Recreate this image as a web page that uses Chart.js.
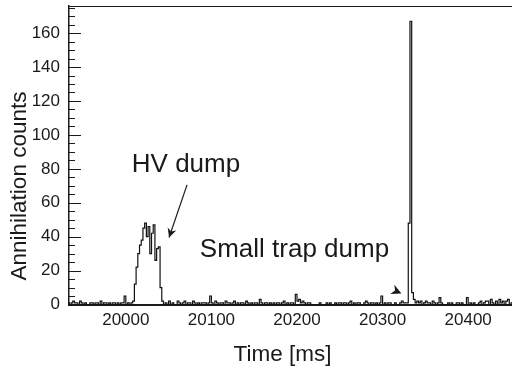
<!DOCTYPE html>
<html lang="en">
<head>
  <meta charset="UTF-8">
  <title>Annihilation counts</title>
  <script src="https://cdn.jsdelivr.net/npm/chart.js"></script>
  <style>
    body { margin: 0; background: #fff; }
    canvas { display: block; }
  </style>
</head>
<body>

  <canvas id="dumpChart" width="512" height="368"></canvas>

  <script>
    // histogram: 2 ms bins, first bin starts at 19932 ms
    const binStart = 19932;
    const binWidth = 2;
    const counts = [
      1, 0, 1, 2, 1, 1, 0, 2, 1, 0, 1, 0, 0, 1, 1, 0, 1, 1, 0, 2,
      0, 1, 1, 0, 1, 0, 1, 1, 0, 1, 0, 1, 1, 5, 0, 1, 0, 1, 2, 12,
      22, 30, 35, 38, 45, 48, 40, 46, 30, 42, 47, 26, 33, 34, 10, 2, 0, 1, 0, 2,
      0, 1, 0, 0, 2, 1, 0, 1, 2, 0, 1, 1, 0, 2, 1, 0, 1, 0, 1, 1,
      1, 0, 1, 5, 1, 0, 2, 1, 0, 1, 1, 0, 2, 1, 1, 0, 1, 2, 0, 1,
      0, 1, 1, 0, 2, 1, 0, 1, 0, 1, 1, 0, 3, 1, 0, 1, 1, 0, 1, 0,
      1, 0, 1, 1, 0, 1, 2, 0, 1, 0, 1, 1, 0, 6, 2, 3, 1, 2, 1, 0,
      1, 1, 0, 0, 0, 0, 0, 1, 0, 0, 0, 1, 0, 1, 0, 0, 1, 0, 1, 1,
      0, 1, 1, 0, 1, 2, 0, 1, 0, 1, 1, 0, 0, 1, 2, 1, 0, 1, 1, 0,
      1, 0, 1, 5, 0, 1, 0, 1, 1, 0, 0, 1, 0, 0, 1, 2, 1, 1, 1, 48,
      167, 7, 3, 1, 2, 1, 2, 0, 1, 2, 1, 1, 0, 2, 1, 0, 1, 4, 1, 0,
      0, 0, 1, 0, 1, 0, 0, 1, 1, 0, 1, 0, 0, 4, 0, 1, 0, 1, 0, 0,
      1, 2, 0, 1, 2, 2, 0, 3, 1, 0, 2, 0, 3, 1, 2, 0, 2, 3, 0, 1,
      0
    ];
    const binTimes = counts.map((c, i) => binStart + i * binWidth);

    const xTicks = [20000, 20100, 20200, 20300, 20400];
    const yTicks = [0, 20, 40, 60, 80, 100, 120, 140, 160];

    const FONT = '"Liberation Sans", Arial, sans-serif';
    const INK = '#1a1a1a';

    function arrowHead(ctx, tx, ty, dx, dy, len, half) {
      const n = Math.hypot(dx, dy);
      const ux = dx / n, uy = dy / n;
      const bx = tx - ux * len, by = ty - uy * len;
      const nx = tx - ux * len * 0.7, ny = ty - uy * len * 0.7;
      ctx.beginPath();
      ctx.moveTo(tx, ty);
      ctx.lineTo(bx - uy * half, by + ux * half);
      ctx.lineTo(nx, ny);
      ctx.lineTo(bx + uy * half, by - ux * half);
      ctx.closePath();
      ctx.fill();
    }

    // frame top, inward y ticks, titles and the labels on the plot
    const extras = {
      id: 'extras',
      afterDraw(chart) {
        const { ctx, chartArea: a, scales: { x, y } } = chart;
        ctx.save();
        ctx.strokeStyle = INK;
        ctx.fillStyle = INK;

        ctx.lineWidth = 1;
        ctx.beginPath();
        ctx.moveTo(a.left, a.top + 0.5);
        ctx.lineTo(a.right, a.top + 0.5);
        ctx.stroke();

        for (let v = 0; v <= 175; v += 5) {
          const py = Math.round(y.getPixelForValue(v)) + 0.5;
          const len = v % 20 === 0 ? 12 : 6;
          ctx.beginPath();
          ctx.moveTo(a.left, py);
          ctx.lineTo(a.left + len, py);
          ctx.stroke();
        }

        ctx.font = '22.5px ' + FONT;
        ctx.textAlign = 'center';
        ctx.textBaseline = 'alphabetic';
        ctx.fillText('Time [ms]', 282.5, 361);

        ctx.save();
        ctx.translate(26, 186);
        ctx.rotate(-Math.PI / 2);
        ctx.fillText('Annihilation counts', 0, 0);
        ctx.restore();

        ctx.font = '26px ' + FONT;
        ctx.textAlign = 'left';
        ctx.fillText('HV dump', x.getPixelForValue(20007), y.getPixelForValue(78));
        ctx.fillText('Small trap dump', x.getPixelForValue(20086.5), y.getPixelForValue(28.2));

        // arrow to HV dump
        const x0 = x.getPixelForValue(20071.5), y0 = y.getPixelForValue(70.5);
        const x1 = x.getPixelForValue(20050.5), y1 = y.getPixelForValue(39.5);
        ctx.lineWidth = 1.2;
        ctx.beginPath();
        ctx.moveTo(x0, y0);
        ctx.lineTo(x1, y1);
        ctx.stroke();
        arrowHead(ctx, x1, y1, x1 - x0, y1 - y0, 9, 4.5);

        // small arrowhead pointing at the trap dump peak
        arrowHead(ctx, x.getPixelForValue(20322), y.getPixelForValue(6.5), 1, 0.45, 10, 5);

        ctx.restore();
      }
    };

    new Chart(document.getElementById('dumpChart'), {
      type: 'line',
      data: {
        datasets: [{
          data: binTimes.map((t, i) => ({ x: t, y: counts[i] })),
          stepped: true,
          borderColor: '#111',
          borderWidth: 1.2,
          pointRadius: 0,
          fill: false
        }]
      },
      options: {
        responsive: false,
        animation: false,
        devicePixelRatio: 1,
        layout: { padding: { top: 6, right: 0, bottom: 0, left: 0 } },
        plugins: {
          legend: { display: false },
          tooltip: { enabled: false }
        },
        scales: {
          x: {
            type: 'linear',
            min: 19933.6,
            max: 20451.2,
            afterBuildTicks: s => { s.ticks = xTicks.map(v => ({ value: v })); },
            afterFit: s => { s.height = 63.5; s.paddingLeft = 0; s.paddingRight = 0; },
            grid: { display: false, drawTicks: false },
            border: { display: true, color: INK, width: 2 },
            ticks: {
              callback: v => String(v),
              padding: 6,
              maxRotation: 0,
              color: INK,
              font: { family: FONT, size: 17 }
            }
          },
          y: {
            min: 0,
            max: 176,
            afterBuildTicks: s => { s.ticks = yTicks.map(v => ({ value: v })); },
            afterFit: s => { s.width = 69; s.paddingTop = 0; s.paddingBottom = 0; },
            grid: { display: false, drawTicks: false },
            border: { display: true, color: INK, width: 1.5 },
            ticks: {
              padding: 9,
              color: INK,
              font: { family: FONT, size: 17 }
            }
          }
        }
      },
      plugins: [extras]
    });
  </script>

</body>
</html>
